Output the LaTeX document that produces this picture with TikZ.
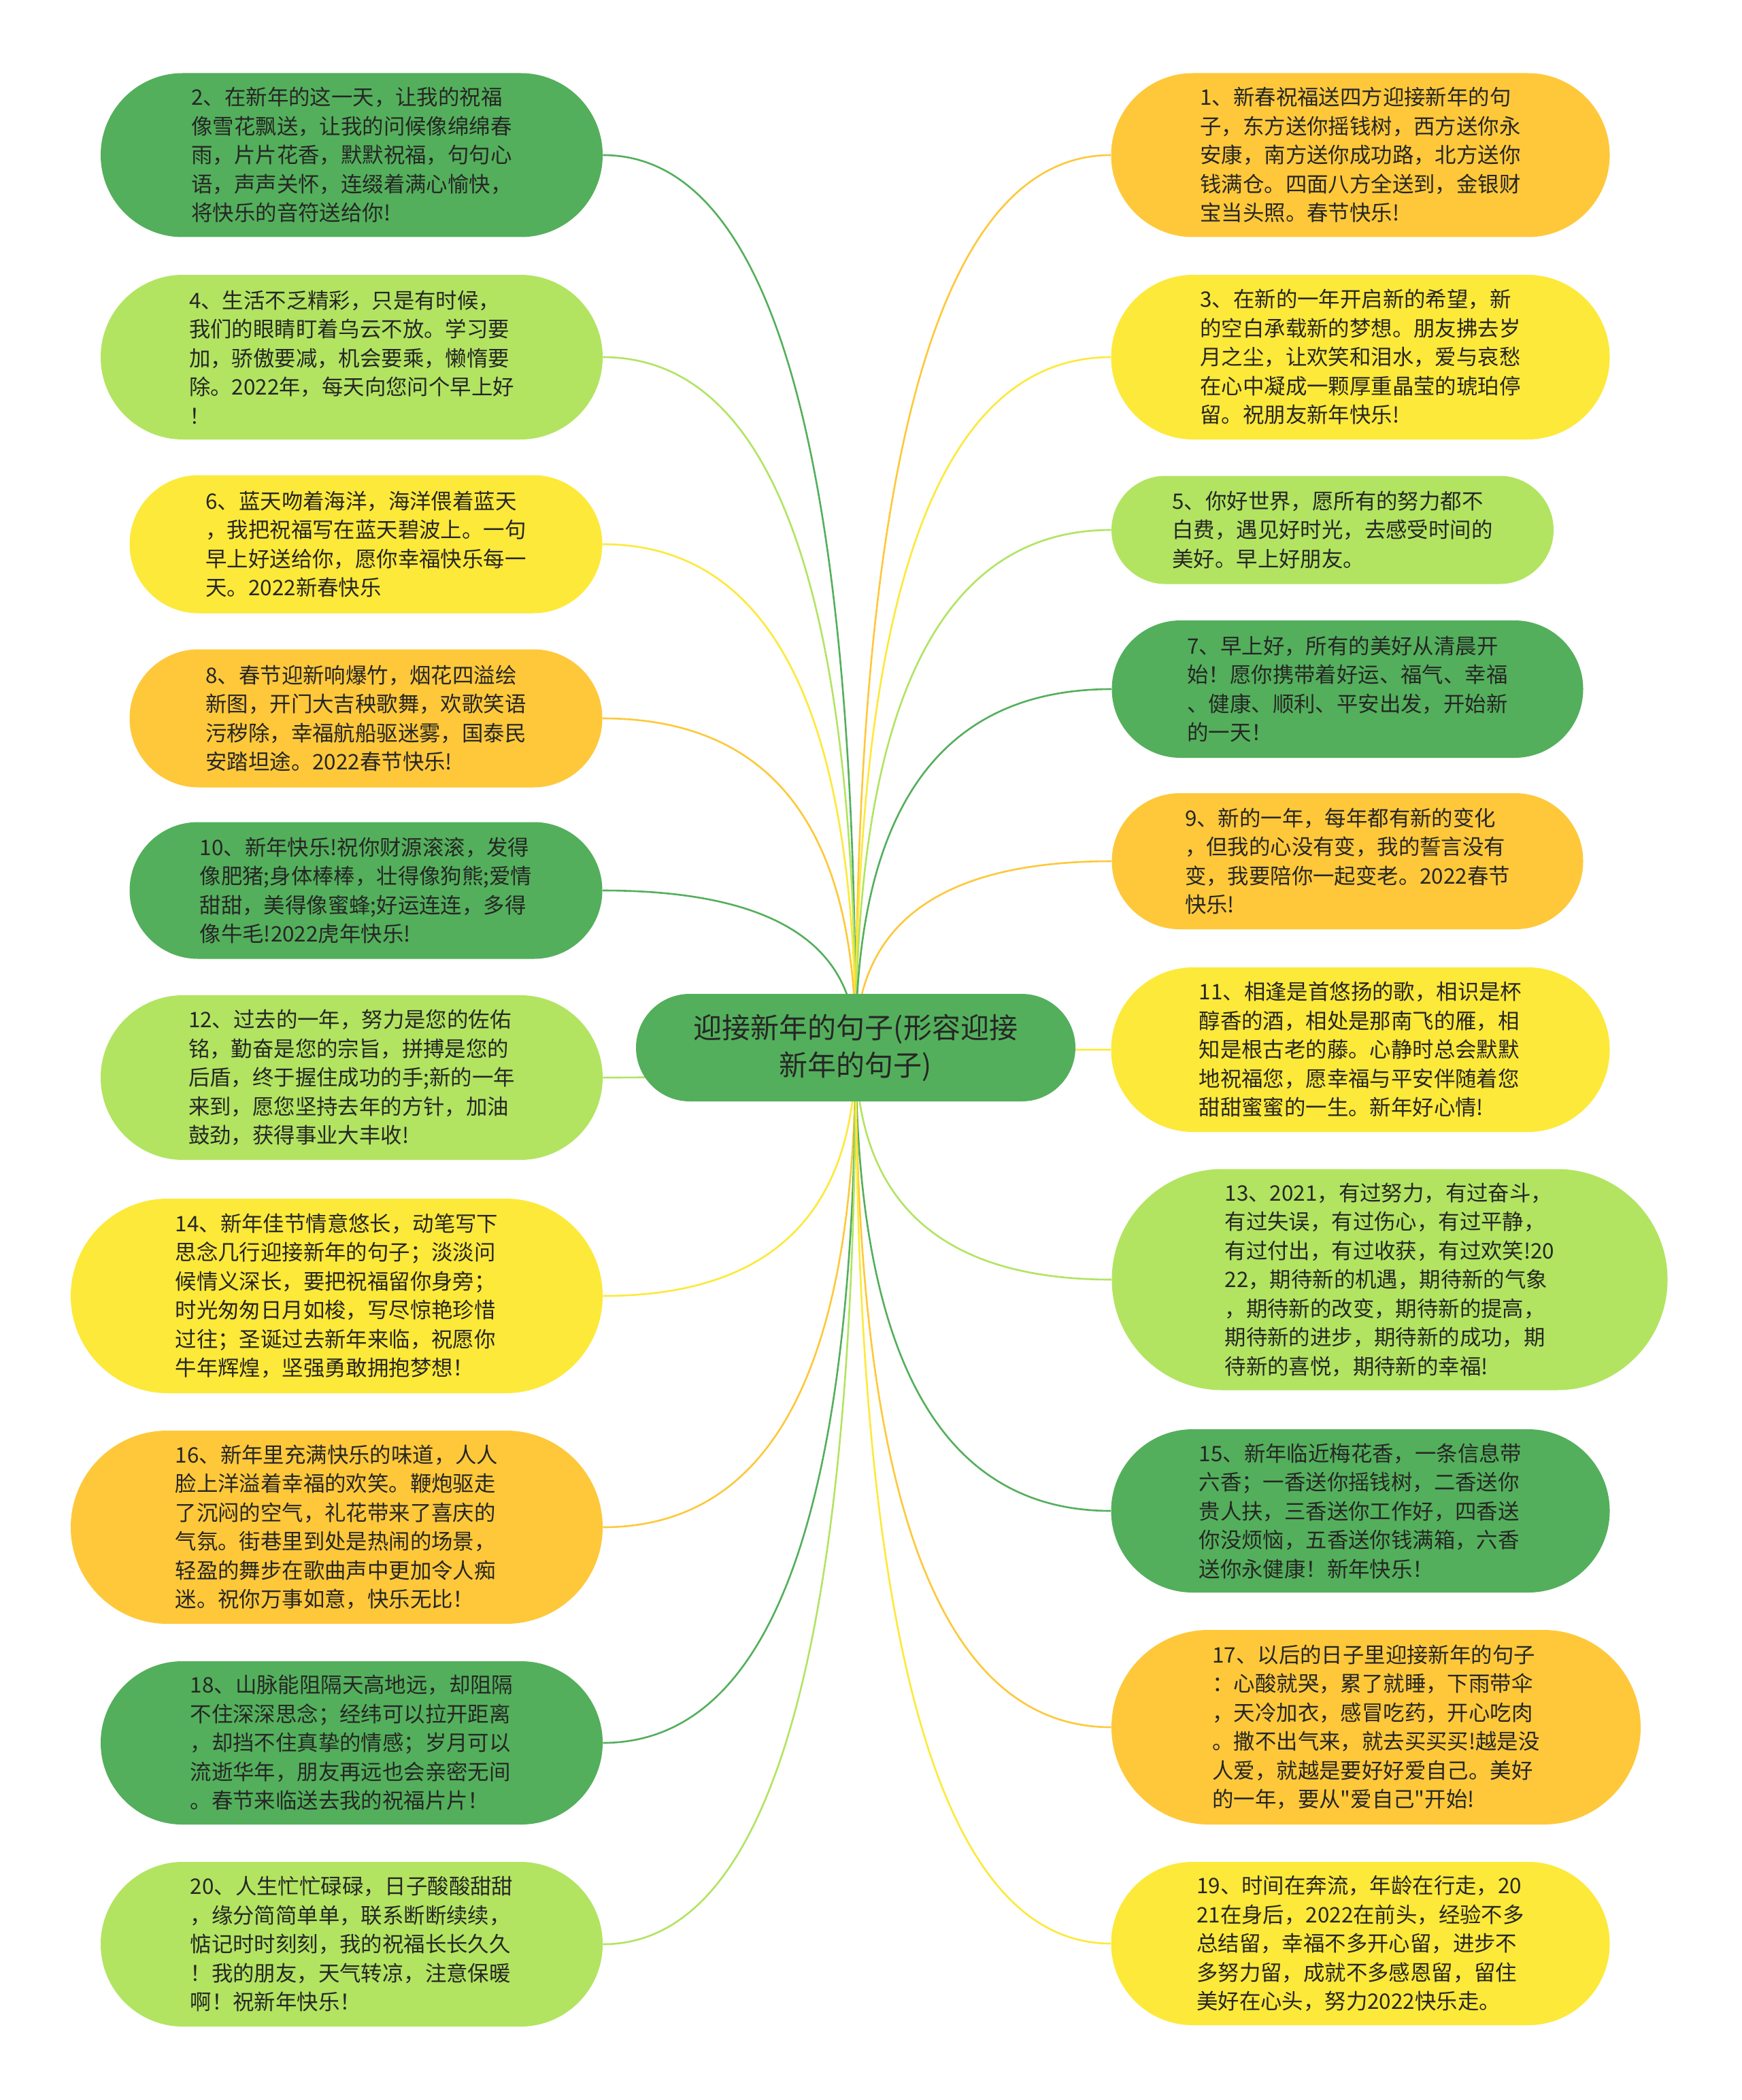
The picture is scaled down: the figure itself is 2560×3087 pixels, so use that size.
\documentclass[tikz,border=0pt]{standalone}
\usepackage{fontspec}
\newfontfamily\cjkfont{Noto Sans CJK SC}
\usepackage{tikz}
\usetikzlibrary{shapes, calc, backgrounds}
\definecolor{dkgreen}{RGB}{83,175,91}
\definecolor{ltgreen}{RGB}{178,228,97}
\definecolor{sunyellow}{RGB}{253,233,57}
\definecolor{amber}{RGB}{254,200,58}
\definecolor{inkgray}{RGB}{38,38,38}
\tikzstyle{pill} = [rounded rectangle, inner sep=0pt, align=left, text=inkgray,
    font=\cjkfont\fontsize{15.7}{21.25}\selectfont]
\tikzstyle{rootpill} = [rounded rectangle, inner sep=0pt, align=center, text=inkgray,
    fill=dkgreen, font=\cjkfont\fontsize{21}{27.5}\selectfont]
\tikzstyle{branch} = [line width=1.3pt,
    to path={.. controls ($(\tikztostart)!0.667!(\tikztostart |- \tikztotarget)$)
    and ($(\tikztotarget)!0.667!(\tikztostart |- \tikztotarget)$) .. (\tikztotarget)}]
\tikzset{pillsize/.style 2 args={minimum width=#1*0.5pt, minimum height=#2*0.5pt}}

\begin{document}
\begin{tikzpicture}[x=0.5pt, y=-0.5pt]
	\useasboundingbox (0,0) rectangle (2560,3087);

	\node[rootpill, pillsize={646}{158}] at (1258,1540) (root) {迎接新年的句子(形容迎接\\新年的句子)};

	% left column
	\node[pill, fill=dkgreen, pillsize={738}{241}] at (517,228) (wish2) {2、在新年的这一天，让我的祝福\\像雪花飘送，让我的问候像绵绵春\\雨，片片花香，默默祝福，句句心\\语，声声关怀，连缀着满心愉快，\\将快乐的音符送给你!};
	\node[pill, fill=ltgreen, pillsize={738}{242}] at (517,525) (wish4) {4、生活不乏精彩，只是有时候，\\我们的眼睛盯着乌云不放。学习要\\加，骄傲要减，机会要乘，懒惰要\\除。2022年，每天向您问个早上好\\！};
	\node[pill, fill=sunyellow, pillsize={695}{203}] at (538,800) (wish6) {6、蓝天吻着海洋，海洋偎着蓝天\\，我把祝福写在蓝天碧波上。一句\\早上好送给你，愿你幸福快乐每一\\天。2022新春快乐};
	\node[pill, fill=amber, pillsize={695}{203}] at (538,1056) (wish8) {8、春节迎新响爆竹，烟花四溢绘\\新图，开门大吉秧歌舞，欢歌笑语\\污秽除，幸福航船驱迷雾，国泰民\\安踏坦途。2022春节快乐!};
	\node[pill, fill=dkgreen, pillsize={695}{201}] at (538,1309) (wish10) {10、新年快乐!祝你财源滚滚，发得\\像肥猪;身体棒棒，壮得像狗熊;爱情\\甜甜，美得像蜜蜂;好运连连，多得\\像牛毛!2022虎年快乐!};
	\node[pill, fill=ltgreen, pillsize={738}{242}] at (517,1584) (wish12) {12、过去的一年，努力是您的佐佑\\铭，勤奋是您的宗旨，拼搏是您的\\后盾，终于握住成功的手;新的一年\\来到，愿您坚持去年的方针，加油\\鼓劲，获得事业大丰收!};
	\node[pill, fill=sunyellow, pillsize={782}{286}] at (495,1905) (wish14) {14、新年佳节情意悠长，动笔写下\\思念几行迎接新年的句子；淡淡问\\候情义深长，要把祝福留你身旁；\\时光匆匆日月如梭，写尽惊艳珍惜\\过往；圣诞过去新年来临，祝愿你\\牛年辉煌，坚强勇敢拥抱梦想！};
	\node[pill, fill=amber, pillsize={782}{284}] at (495,2245) (wish16) {16、新年里充满快乐的味道，人人\\脸上洋溢着幸福的欢笑。鞭炮驱走\\了沉闷的空气，礼花带来了喜庆的\\气氛。街巷里到处是热闹的场景，\\轻盈的舞步在歌曲声中更加令人痴\\迷。祝你万事如意，快乐无比！};
	\node[pill, fill=dkgreen, pillsize={738}{240}] at (517,2562) (wish18) {18、山脉能阻隔天高地远，却阻隔\\不住深深思念；经纬可以拉开距离\\，却挡不住真挚的情感；岁月可以\\流逝华年，朋友再远也会亲密无间\\。春节来临送去我的祝福片片！};
	\node[pill, fill=ltgreen, pillsize={738}{242}] at (517,2858) (wish20) {20、人生忙忙碌碌，日子酸酸甜甜\\，缘分简简单单，联系断断续续，\\惦记时时刻刻，我的祝福长长久久\\！我的朋友，天气转凉，注意保暖\\啊！祝新年快乐！};

	% right column
	\node[pill, fill=amber, pillsize={733}{241}] at (2000,228) (wish1) {1、新春祝福送四方迎接新年的句\\子，东方送你摇钱树，西方送你永\\安康，南方送你成功路，北方送你\\钱满仓。四面八方全送到，金银财\\宝当头照。春节快乐!};
	\node[pill, fill=sunyellow, pillsize={733}{242}] at (2000,525) (wish3) {3、在新的一年开启新的希望，新\\的空白承载新的梦想。朋友拂去岁\\月之尘，让欢笑和泪水，爱与哀愁\\在心中凝成一颗厚重晶莹的琥珀停\\留。祝朋友新年快乐!};
	\node[pill, fill=ltgreen, pillsize={650}{159}] at (1959,779) (wish5) {5、你好世界，愿所有的努力都不\\白费，遇见好时光，去感受时间的\\美好。早上好朋友。};
	\node[pill, fill=dkgreen, pillsize={693}{202}] at (1981,1013) (wish7) {7、早上好，所有的美好从清晨开\\始！愿你携带着好运、福气、幸福\\、健康、顺利、平安出发，开始新\\的一天！};
	\node[pill, fill=amber, pillsize={693}{200}] at (1981,1266) (wish9) {9、新的一年，每年都有新的变化\\，但我的心没有变，我的誓言没有\\变，我要陪你一起变老。2022春节\\快乐!};
	\node[pill, fill=sunyellow, pillsize={733}{242}] at (2000,1543) (wish11) {11、相逢是首悠扬的歌，相识是杯\\醇香的酒，相处是那南飞的雁，相\\知是根古老的藤。心静时总会默默\\地祝福您，愿幸福与平安伴随着您\\甜甜蜜蜜的一生。新年好心情!};
	\node[pill, fill=ltgreen, pillsize={817}{325}] at (2043,1881) (wish13) {13、2021，有过努力，有过奋斗，\\有过失误，有过伤心，有过平静，\\有过付出，有过收获，有过欢笑!20\\22，期待新的机遇，期待新的气象\\，期待新的改变，期待新的提高，\\期待新的进步，期待新的成功，期\\待新的喜悦，期待新的幸福!};
	\node[pill, fill=dkgreen, pillsize={733}{240}] at (2000,2221) (wish15) {15、新年临近梅花香，一条信息带\\六香；一香送你摇钱树，二香送你\\贵人扶，三香送你工作好，四香送\\你没烦恼，五香送你钱满箱，六香\\送你永健康！新年快乐！};
	\node[pill, fill=amber, pillsize={778}{286}] at (2023,2539) (wish17) {17、以后的日子里迎接新年的句子\\：心酸就哭，累了就睡，下雨带伞\\，天冷加衣，感冒吃药，开心吃肉\\。撒不出气来，就去买买买!越是没\\人爱，就越是要好好爱自己。美好\\的一年，要从"爱自己"开始!};
	\node[pill, fill=sunyellow, pillsize={733}{240}] at (2000,2857) (wish19) {19、时间在奔流，年龄在行走，20\\21在身后，2022在前头，经验不多\\总结留，幸福不多开心留，进步不\\多努力留，成就不多感恩留，留住\\美好在心头，努力2022快乐走。};

	\begin{pgfonlayer}{background}
		\fill[white] (0,0) rectangle (2560,3087);
		\draw[branch, dkgreen] (root.center) to (wish2.east);
		\draw[branch, ltgreen] (root.center) to (wish4.east);
		\draw[branch, sunyellow] (root.center) to (wish6.east);
		\draw[branch, amber] (root.center) to (wish8.east);
		\draw[branch, dkgreen] (root.center) to (wish10.east);
		\draw[branch, ltgreen] (root.center) to (wish12.east);
		\draw[branch, sunyellow] (root.center) to (wish14.east);
		\draw[branch, amber] (root.center) to (wish16.east);
		\draw[branch, dkgreen] (root.center) to (wish18.east);
		\draw[branch, ltgreen] (root.center) to (wish20.east);
		\draw[branch, amber] (root.center) to (wish1.west);
		\draw[branch, sunyellow] (root.center) to (wish3.west);
		\draw[branch, ltgreen] (root.center) to (wish5.west);
		\draw[branch, dkgreen] (root.center) to (wish7.west);
		\draw[branch, amber] (root.center) to (wish9.west);
		\draw[branch, sunyellow] (root.center) to (wish11.west);
		\draw[branch, ltgreen] (root.center) to (wish13.west);
		\draw[branch, dkgreen] (root.center) to (wish15.west);
		\draw[branch, amber] (root.center) to (wish17.west);
		\draw[branch, sunyellow] (root.center) to (wish19.west);
	\end{pgfonlayer}
\end{tikzpicture}
\end{document}
